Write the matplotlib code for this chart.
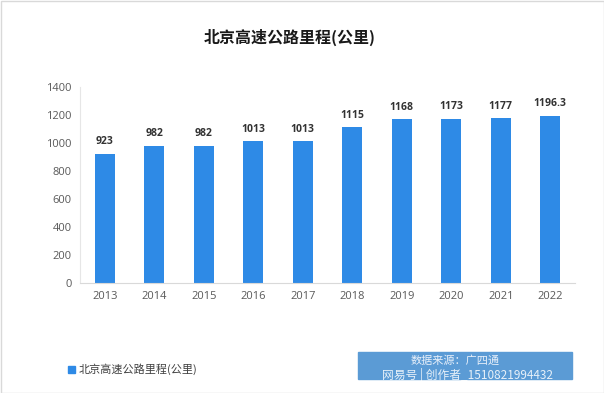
import matplotlib
matplotlib.use("Agg")
import matplotlib.pyplot as plt
from matplotlib.patches import Rectangle

plt.rcParams['font.family'] = ['Open Sans', 'Noto Sans CJK SC', 'DejaVu Sans']

years = ["2013", "2014", "2015", "2016", "2017", "2018", "2019", "2020", "2021", "2022"]
values = [923, 982, 982, 1013, 1013, 1115, 1168, 1173, 1177, 1196.3]
labels = ["923", "982", "982", "1013", "1013", "1115", "1168", "1173", "1177", "1196.3"]
yticks = [0, 200, 400, 600, 800, 1000, 1200, 1400]
title = "北京高速公路里程(公里)"
series_name = "北京高速公路里程(公里)"
source = "数据来源：广四通"

W, H = 604, 393
fig = plt.figure(figsize=(W / 100, H / 100), dpi=100)
ax = fig.add_axes([80 / W, 1 - 283 / H, 495 / W, (283 - 87) / H])

bar_color = "#2E8AE6"
ax.bar(range(len(years)), values, width=0.4, color=bar_color)
for i, (v, l) in enumerate(zip(values, labels)):
    ax.text(i, v + 45, l, ha="center", va="bottom", fontsize=7.5, fontweight="bold", color="#333333")

ax.set_xlim(-0.5, len(years) - 0.5)
ax.set_ylim(0, 1400)
ax.set_yticks(yticks)
ax.set_xticks(range(len(years)))
ax.set_xticklabels(years)
ax.tick_params(axis="both", length=0, labelsize=8, colors="#595959", pad=6)
for s in ["top", "right"]:
    ax.spines[s].set_visible(False)
ax.spines["left"].set_color("#E6E6E6")
ax.spines["bottom"].set_color("#D9D9D9")

fig.text(290 / W, 1 - 37 / H, title, ha="center", va="center", fontsize=11.5, fontweight="bold", color="#1a1a1a",
         family=['Noto Sans CJK SC', 'DejaVu Sans'])

# legend
fig.patches.append(Rectangle((68 / W, 1 - 373 / H), 7 / W, 7 / H, transform=fig.transFigure, color=bar_color))
fig.text(79 / W, 1 - 369 / H, series_name, ha="left", va="center", fontsize=8, color="#404040",
         family=['Noto Sans CJK SC', 'DejaVu Sans'])

# source box
fig.patches.append(Rectangle((358 / W, 1 - 379 / H), 214 / W, 27 / H, transform=fig.transFigure, color="#5B9BD5"))
fig.text(455 / W, 1 - 360 / H, source, ha="center", va="center", fontsize=8, color="#E8F0FA",
         family=['Noto Sans CJK SC', 'DejaVu Sans'])
fig.text(467 / W, 1 - 375 / H, "网易号 | 创作者_1510821994432", ha="center", va="center", fontsize=8.5, color="white",
         alpha=0.85, family=['Noto Sans CJK SC', 'DejaVu Sans'])

# frame
fig.patches.append(Rectangle((0.5 / W, 0.5 / H), (W - 1) / W, (H - 1) / H, transform=fig.transFigure, fill=False, edgecolor="#D9D9D9", lw=1))

fig.savefig("out.png", dpi=100)
